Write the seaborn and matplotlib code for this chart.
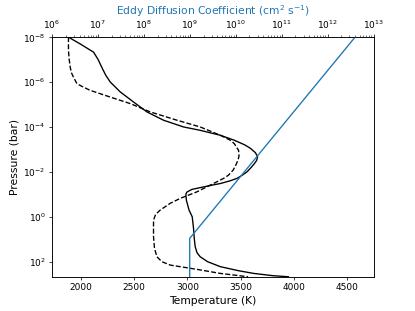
import numpy as np
import seaborn as sns
import matplotlib.pyplot as plt
from matplotlib.ticker import NullLocator

# Temperature profiles (log10 pressure in bar, T in K)
logp_solid = [-8.0, -7.7, -7.33, -7.0, -6.6, -6.3, -6.0, -5.56, -5.11, -4.67,
              -4.3, -4.0, -3.85, -3.63, -3.41, -3.2, -3.04, -2.85, -2.67, -2.5,
              -2.37, -2.2, -2.0, -1.85, -1.71, -1.6, -1.48, -1.4, -1.33, -1.22,
              -1.1, -1.0, -0.74, -0.3, 0.0, 0.5, 1.0, 1.33, 1.6, 1.78,
              2.0, 2.22, 2.4, 2.52, 2.62, 2.67]
temp_solid = [1880, 1990, 2117, 2160, 2200, 2232, 2274, 2368, 2493, 2619,
              2775, 2963, 3120, 3309, 3440, 3540, 3595, 3640, 3660, 3650,
              3630, 3600, 3560, 3515, 3466, 3400, 3309, 3220, 3152, 3042,
              2995, 2985, 2990, 3015, 3045, 3057, 3065, 3073, 3090, 3120,
              3190, 3309, 3480, 3622, 3800, 3950]

logp_dashed = [-8.0, -7.41, -7.0, -6.67, -6.4, -6.22, -5.93, -5.8, -5.63, -5.33,
               -5.04, -4.67, -4.3, -4.0, -3.63, -3.41, -3.26, -2.96, -2.7, -2.52,
               -2.3, -2.08, -1.85, -1.71, -1.41, -1.11, -0.82, -0.6, -0.3, -0.1,
               0.15, 0.89, 1.4, 1.78, 2.0, 2.15, 2.34, 2.52, 2.67]
temp_dashed = [1881, 1881, 1888, 1897, 1910, 1928, 1960, 2010, 2085, 2274,
               2462, 2650, 2901, 3120, 3309, 3403, 3440, 3481, 3485, 3475,
               3455, 3430, 3385, 3340, 3215, 3089, 2932, 2838, 2744, 2700,
               2681, 2681, 2690, 2713, 2760, 2838, 3089, 3309, 3570]

# Eddy diffusion profile
logp_kzz = [-8.0, 0.96, 2.67]
kzz = [10**12.6, 1e9, 1e9]

p_solid = 10.0 ** np.array(logp_solid)
p_dashed = 10.0 ** np.array(logp_dashed)
p_kzz = 10.0 ** np.array(logp_kzz)

fig, ax = plt.subplots(figsize=(6.4, 4.8))
sns.lineplot(x=temp_solid, y=p_solid, sort=False, estimator=None, color='k', ax=ax)
sns.lineplot(x=temp_dashed, y=p_dashed, sort=False, estimator=None, color='k',
             linestyle='--', ax=ax)
ax.set_yscale('log')
ax.set_ylim(10**2.67, 1e-8)
ax.set_xlim(1725, 4750)
ax.yaxis.set_minor_locator(NullLocator())
ax.set_xlabel('Temperature (K)', fontsize=12)
ax.set_ylabel('Pressure (bar)', fontsize=12)

ax2 = ax.twiny()
sns.lineplot(x=kzz, y=p_kzz, sort=False, estimator=None, color='C0', ax=ax2)
ax2.set_xscale('log')
ax2.set_xlim(1e6, 1e13)
ax2.set_ylim(10**2.67, 1e-8)
ax2.set_xlabel('Eddy Diffusion Coefficient (cm$^2$ s$^{-1}$)', color='C0', fontsize=12)

fig.savefig('out.png', dpi=415 / 6.4)
